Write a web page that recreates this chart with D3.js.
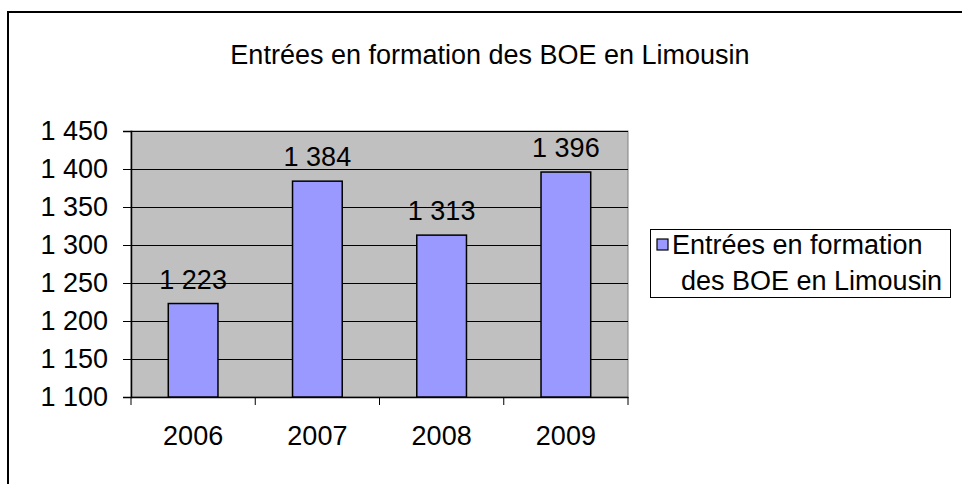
<!DOCTYPE html>
<html><head><meta charset="utf-8">
<script src="https://cdn.jsdelivr.net/npm/d3@7/dist/d3.min.js"></script>
<style>body{margin:0;background:#fff}svg text{font-family:"Liberation Sans",Arial,sans-serif;fill:#000}</style>
</head><body><svg id="c" width="962" height="484"></svg>
<script>
const title = "Entrées en formation des BOE en Limousin";
const categories = ["2006","2007","2008","2009"];
const values = [1223,1384,1313,1396];
const yTicks = [1100,1150,1200,1250,1300,1350,1400,1450];
const legendLines = ["Entrées en formation","des BOE en Limousin"];

const fmt = v => d3.format(",")(v).replace(/,/g," ");
const svg = d3.select("#c");
const FS = 27;
// outer border
svg.append("rect").attr("x",8).attr("y",12).attr("width",980).attr("height",500)
  .attr("fill","none").attr("stroke","#000").attr("stroke-width",2);

const L=131,R=628,T=131,B=397;
const x = d3.scaleBand().domain(categories).range([L,R]).paddingInner(0.6).paddingOuter(0.3);
const y = d3.scaleLinear().domain([1100,1450]).range([B,T]);

svg.append("rect").attr("x",L).attr("y",T).attr("width",R-L).attr("height",B-T)
  .attr("fill","#C0C0C0").attr("stroke","#808080").attr("stroke-width",1);

// gridlines
svg.append("g").selectAll("line").data(yTicks.slice(1)).join("line")
  .attr("x1",L).attr("x2",R).attr("y1",d=>Math.round(y(d))+0.5).attr("y2",d=>Math.round(y(d))+0.5)
  .attr("stroke","#000").attr("stroke-width",1);

// y axis
const ya = svg.append("g").attr("transform",`translate(${L},0)`)
  .call(d3.axisLeft(y).tickValues(yTicks).tickFormat(fmt).tickSize(8).tickPadding(15));
ya.select(".domain").attr("stroke","#000").attr("stroke-width",1.5);
ya.selectAll("text").style("font-size",FS+"px");

// x axis
const xa = svg.append("g").attr("transform",`translate(0,${B})`)
  .call(d3.axisBottom(x).tickSize(0).tickPadding(29));
xa.select(".domain").attr("stroke","#000").attr("stroke-width",1.5);
xa.selectAll("text").style("font-size",FS+"px");
const step = x.step();
const bounds = d3.range(categories.length+1).map(i => x(categories[0]) - step*x.paddingOuter() + i*step);
xa.selectAll(".bt").data(bounds).join("line").attr("class","bt")
  .attr("x1",d=>d).attr("x2",d=>d).attr("y1",0).attr("y2",8).attr("stroke","#000").attr("stroke-width",1);

// bars
svg.append("g").selectAll("rect").data(values).join("rect")
  .attr("x",(d,i)=>x(categories[i])).attr("width",x.bandwidth())
  .attr("y",d=>y(d)).attr("height",d=>B-y(d))
  .attr("fill","#9999FF").attr("stroke","#000").attr("stroke-width",1.5);

// labels
svg.append("g").selectAll("text").data(values).join("text")
  .attr("x",(d,i)=>x(categories[i])+x.bandwidth()/2).attr("y",d=>y(d)-15)
  .attr("text-anchor","middle").style("font-size",FS+"px").text(fmt);

// title
svg.append("text").attr("x",490).attr("y",64).attr("text-anchor","middle")
  .style("font-size",FS+"px").text(title);

// legend
svg.append("rect").attr("x",650.5).attr("y",229.5).attr("width",300).attr("height",68)
  .attr("fill","#fff").attr("stroke","#000").attr("stroke-width",1);
svg.append("rect").attr("x",657).attr("y",239).attr("width",11).attr("height",11)
  .attr("fill","#9999FF").attr("stroke","#000").attr("stroke-width",1.2);
svg.append("text").attr("x",672).attr("y",254).style("font-size",FS+"px").text(legendLines[0]);
svg.append("text").attr("x",681).attr("y",290).style("font-size",FS+"px").text(legendLines[1]);
</script></body></html>
